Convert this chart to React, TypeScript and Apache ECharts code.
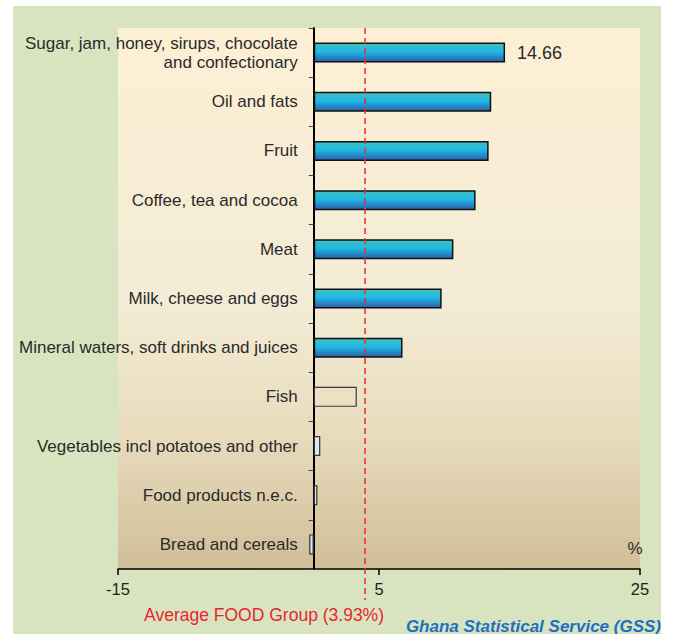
import React, { useEffect, useRef } from "react";
import * as echarts from "echarts";

const categories = [
  "Sugar, jam, honey, sirups, chocolate\nand confectionary",
  "Oil and fats",
  "Fruit",
  "Coffee, tea and cocoa",
  "Meat",
  "Milk, cheese and eggs",
  "Mineral waters, soft drinks and juices",
  "Fish",
  "Vegetables incl potatoes and other",
  "Food products n.e.c.",
  "Bread and cereals",
];
const values = [14.66, 13.6, 13.4, 12.4, 10.7, 9.8, 6.8, 3.3, 0.5, 0.28, -0.35];
// bar style kind: "blue" above average, "hollow" for fish, "light" for small ones
const kinds = ["blue", "blue", "blue", "blue", "blue", "blue", "blue", "hollow", "light", "light", "light"];
const xTicks = { min: -15, max: 25, interval: 20 };
const averageFood = 3.93;
const averageLabel = "Average FOOD Group (3.93%)";
const sourceLabel = "Ghana Statistical Service (GSS)";
const unitLabel = "%";

const FONT = "'Liberation Sans', Arial, sans-serif";
const GRID_LEFT = 118;

export default function App() {
  const ref = useRef<HTMLDivElement>(null);
  useEffect(() => {
    document.body.style.margin = "0";
    const chart = echarts.init(ref.current!, null, { renderer: "svg" });
    const blueGrad = new echarts.graphic.LinearGradient(0, 0, 0, 1, [
      { offset: 0, color: "#40c0bc" },
      { offset: 0.45, color: "#1fb9e6" },
      { offset: 1, color: "#2b5ea8" },
    ]);
    const data = values.map((v, i) => {
      const k = kinds[i];
      const item: any = {
        value: v,
        itemStyle:
          k === "blue"
            ? { color: blueGrad, borderColor: "#111", borderWidth: 1.5 }
            : k === "hollow"
            ? { color: "rgba(255,255,255,0)", borderColor: "#3a3a3a", borderWidth: 1.2 }
            : { color: "#dce6f2", borderColor: "#333", borderWidth: 1.2 },
      };
      if (i === 0) {
        item.label = {
          show: true,
          position: "right",
          distance: 12,
          fontSize: 18,
          color: "#2a2a2a",
          fontFamily: FONT,
          formatter: "{c}",
        };
      }
      return item;
    });
    const bgRect = {
      type: "rect",
      z: -10,
      silent: true,
      shape: { x: 13, y: 6, width: 648, height: 628 },
      style: { fill: "#d8e4bf" },
    };
    chart.setOption({
      animation: false,
      backgroundColor: "#ffffff",
      grid: {
        left: GRID_LEFT,
        right: 33,
        top: 28,
        bottom: 65,
        containLabel: false,
        outerBoundsMode: "none",
        show: true,
        borderWidth: 0,
        backgroundColor: new echarts.graphic.LinearGradient(0, 0, 0, 1, [
          { offset: 0, color: "#fcefd4" },
          { offset: 0.5, color: "#f4ecd6" },
          { offset: 0.75, color: "#e8dcbd" },
          { offset: 1, color: "#d0be98" },
        ]),
      },
      xAxis: {
        type: "value",
        min: xTicks.min,
        max: xTicks.max,
        interval: xTicks.interval,
        splitLine: { show: false },
        axisLine: { show: true, lineStyle: { color: "#000", width: 1.5 } },
        axisTick: { show: true, length: 6, lineStyle: { color: "#000", width: 1.5 } },
        axisLabel: { fontSize: 16.5, color: "#222", fontFamily: FONT, margin: 11 },
      },
      yAxis: {
        type: "category",
        inverse: true,
        data: categories,
        offset: 0,
        axisLine: { show: true, onZero: false, lineStyle: { color: "#000", width: 2 } },
        axisTick: { show: true, length: 5, lineStyle: { color: "#444", width: 1 } },
        axisLabel: {
          fontSize: 17,
          color: "#2a2a2a",
          fontFamily: FONT,
          margin: 16,
          lineHeight: 19,
          align: "right",
        },
        splitLine: { show: false },
      },
      graphic: [bgRect],
      series: [
        {
          type: "bar",
          data,
          barWidth: 20,
          z: 3,
        },
      ],
    });

    const zeroX = chart.convertToPixel({ xAxisIndex: 0 }, 0) as number;
    const avgX = chart.convertToPixel({ xAxisIndex: 0 }, averageFood) as number;
    chart.setOption({
      yAxis: { offset: -(zeroX - GRID_LEFT) },
      graphic: [
        bgRect,
        {
          type: "line",
          z: 10,
          shape: { x1: avgX, y1: 28, x2: avgX, y2: 600 },
          style: { stroke: "#f0282e", lineWidth: 1.5, lineDash: [6, 4] },
        },
        {
          type: "text",
          z: 10,
          x: avgX - 101,
          y: 615,
          style: {
            text: averageLabel,
            fill: "#e8262e",
            font: `17.5px ${FONT}`,
            align: "center",
            verticalAlign: "middle",
          },
        },
        {
          type: "text",
          z: 10,
          x: 661,
          y: 626,
          style: {
            text: sourceLabel,
            fill: "#1f6fc1",
            font: `italic bold 17px ${FONT}`,
            align: "right",
            verticalAlign: "middle",
          },
        },
        {
          type: "text",
          z: 10,
          x: 635,
          y: 548,
          style: {
            text: unitLabel,
            fill: "#2a2a2a",
            font: `17px ${FONT}`,
            align: "center",
            verticalAlign: "middle",
          },
        },
      ],
    });
    return () => chart.dispose();
  }, []);
  return <div ref={ref} style={{ width: 673, height: 634 }} />;
}
